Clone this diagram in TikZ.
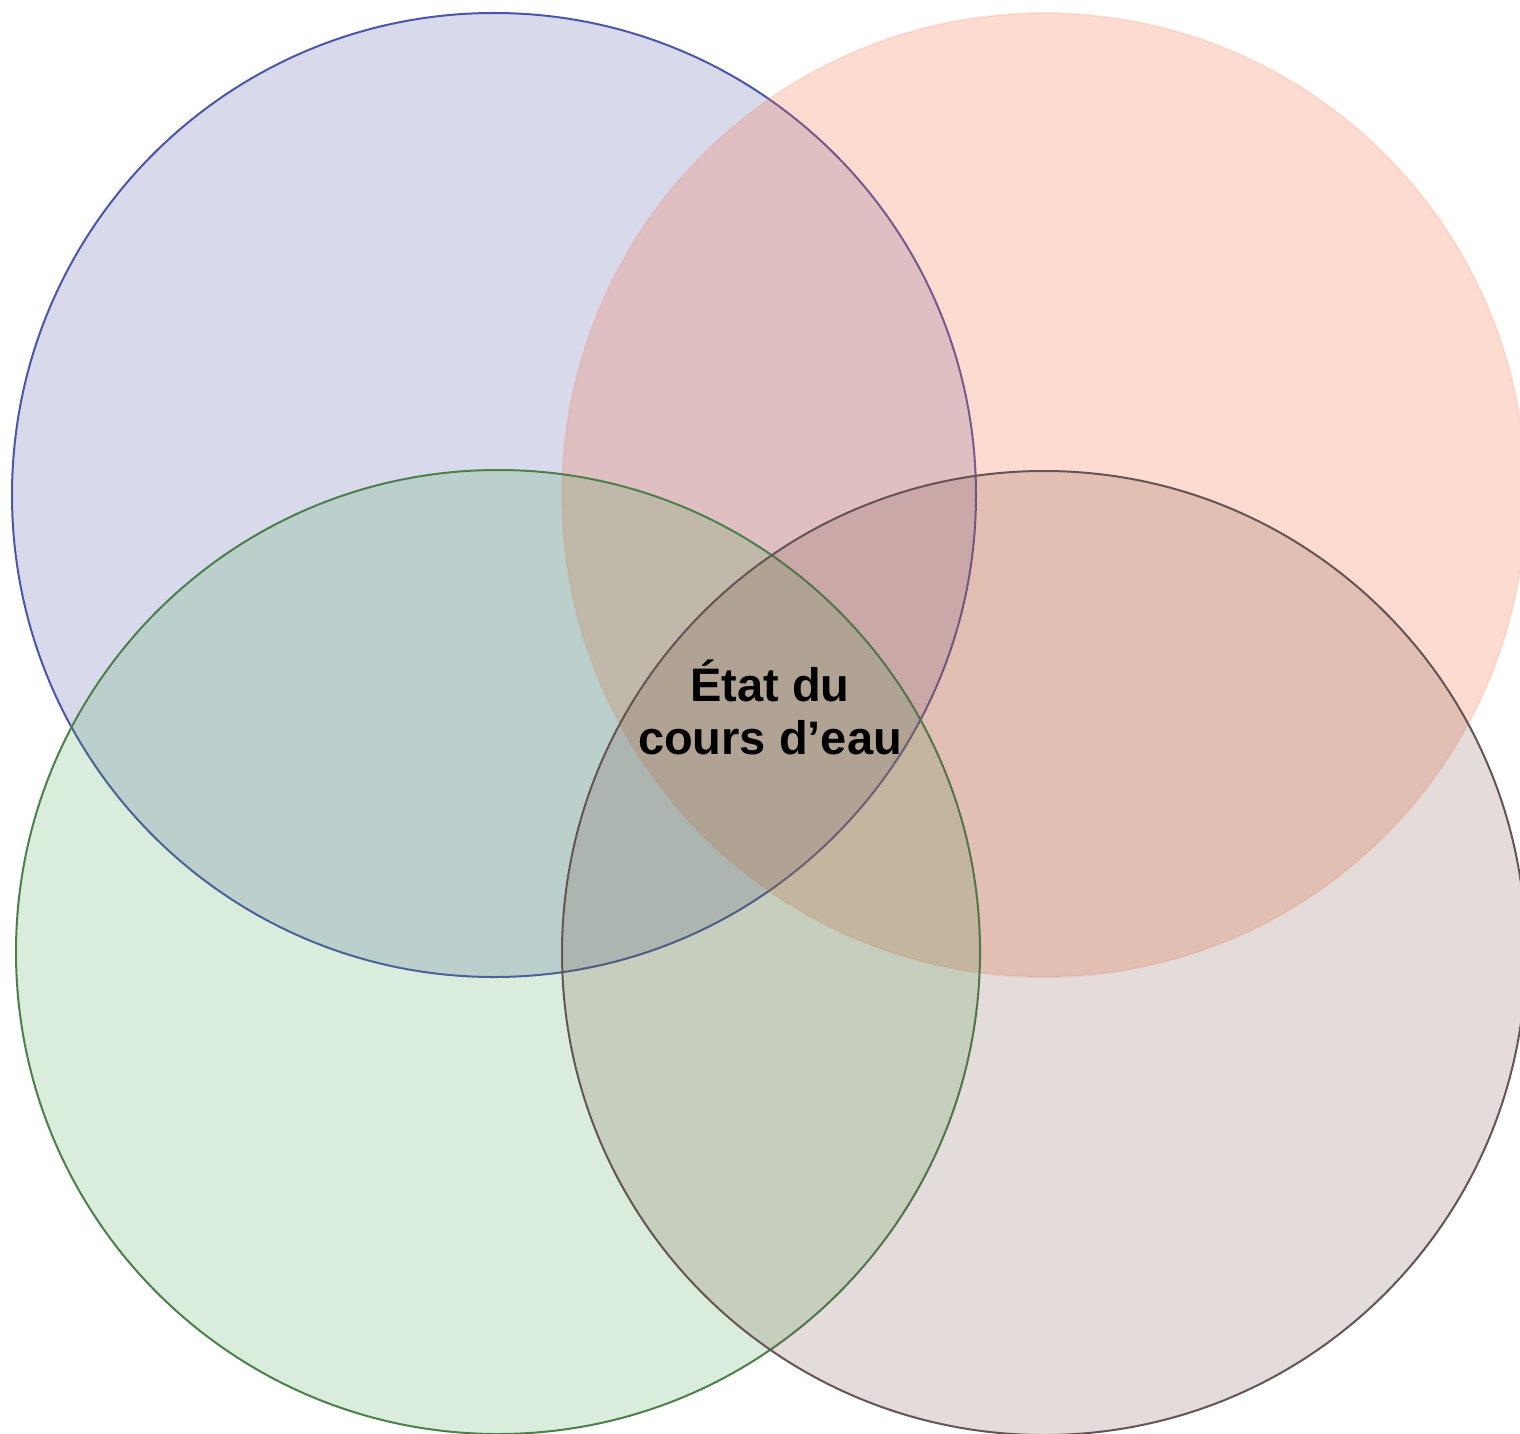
\documentclass[tikz,border=0pt]{standalone}
\usepackage{fontspec}
\setmainfont{Liberation Sans}
\definecolor{vennBlue}{RGB}{60,70,160}
\definecolor{vennSalmon}{RGB}{248,106,58}
\definecolor{vennGreen}{RGB}{60,160,70}
\definecolor{vennBrown}{RGB}{110,70,60}
\definecolor{vennBlueLine}{RGB}{75,85,170}
\definecolor{vennGreenLine}{RGB}{75,128,75}
\definecolor{vennBrownLine}{RGB}{100,84,84}
\usetikzlibrary{positioning}

\begin{document}
\begin{tikzpicture}[
        x=1pt, y=-1pt,
        set/.style={
          circle,
          minimum size=964pt,
          inner sep=0pt,
          line width=2pt,
        },
        label/.style={
          align=center,
          font=\fontsize{47}{53}\selectfont\bfseries,
          text=black,
        },
      ]
        \useasboundingbox (0,0) rectangle (1520,1434);

        \node[set, fill=vennBlue, fill opacity=0.2, draw=vennBlueLine, draw opacity=1] (water) at (494,495) {};
        \node[set, fill=vennSalmon, fill opacity=0.24, draw=vennSalmon, draw opacity=0.12] (habitat) at (1044,495) {};
        \node[set, fill=vennGreen, fill opacity=0.19, draw=vennGreenLine, draw opacity=1] (banks) at (498,952) {};
        \node[set, fill=vennBrown, fill opacity=0.19, draw=vennBrownLine, draw opacity=1] (bed) at (1044,953) {};

        \node[label] (etat) at (770,707) {État du\\cours d’eau};
      \end{tikzpicture}
\end{document}
